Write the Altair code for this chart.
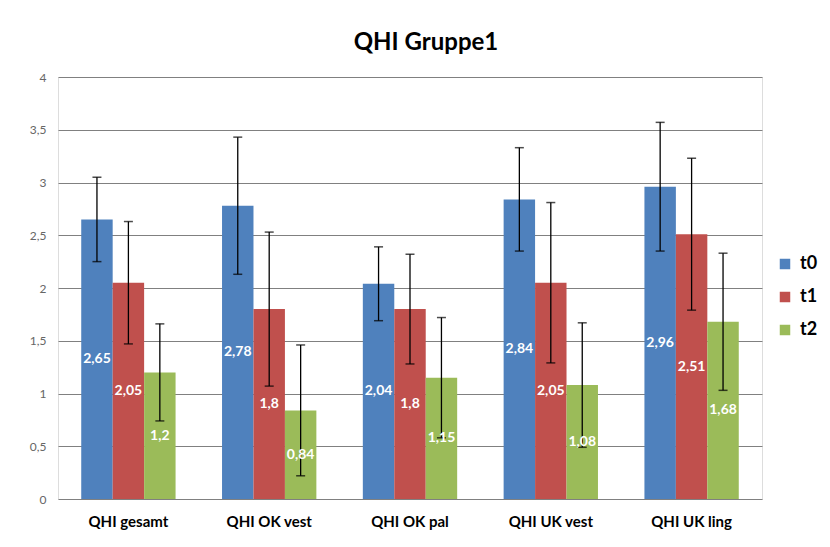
import altair as alt
import pandas as pd

categories = ["QHI gesamt", "QHI OK vest", "QHI OK pal", "QHI UK vest", "QHI UK ling"]
series = ["t0", "t1", "t2"]
t0_values = [2.65, 2.78, 2.04, 2.84, 2.96]
t1_values = [2.05, 1.8, 1.8, 2.05, 2.51]
t2_values = [1.2, 0.84, 1.15, 1.08, 1.68]
t0_err = [0.40, 0.65, 0.35, 0.49, 0.61]
t1_err = [0.58, 0.73, 0.52, 0.76, 0.72]
t2_err = [0.46, 0.62, 0.57, 0.59, 0.65]
colors = ["#4F81BD", "#C0504D", "#9BBB59"]

rows = []
for s, vals, errs in zip(series, [t0_values, t1_values, t2_values], [t0_err, t1_err, t2_err]):
    for c, v, e in zip(categories, vals, errs):
        rows.append({
            "cat": c, "series": s, "value": v,
            "lo": v - e, "hi": v + e, "mid": v / 2,
            "label": str(v).replace(".", ","),
        })
df = pd.DataFrame(rows)

FONT = "Lato"

x_enc = alt.X("cat:N", sort=categories, title=None,
              scale=alt.Scale(paddingInner=0.33, paddingOuter=0.165),
              axis=alt.Axis(labelAngle=0, labelFontWeight="bold", labelFontSize=15,
                            labelColor="#000000", labelPadding=15, ticks=False,
                            domain=False, labelFont=FONT))
xo = alt.XOffset("series:N", sort=series, scale=alt.Scale(paddingInner=0, paddingOuter=0))
y_scale = alt.Scale(domain=[0, 4])

base = alt.Chart(df)

bars = base.mark_bar().encode(
    x=x_enc,
    xOffset=xo,
    y=alt.Y("value:Q", scale=y_scale, title=None,
            axis=alt.Axis(values=[0, 0.5, 1, 1.5, 2, 2.5, 3, 3.5, 4],
                          labelExpr="replace(format(datum.value, ''), '.', ',')",
                          labelColor="#666666", labelFontSize=12, labelPadding=12,
                          ticks=False, domain=False, grid=True, gridColor="#808080",
                          gridWidth=1, labelFont=FONT)),
    color=alt.Color("series:N", sort=series,
                    scale=alt.Scale(domain=series, range=colors),
                    legend=alt.Legend(title=None, orient="none", legendX=718, legendY=178,
                                      symbolType="square", symbolSize=110,
                                      symbolStrokeWidth=0,
                                      labelFontSize=18, labelFontWeight="bold",
                                      labelFont=FONT, rowPadding=15, labelOffset=6)),
)

rules = base.mark_rule(color="#000000", strokeWidth=1.3).encode(
    x=alt.X("cat:N", sort=categories),
    xOffset=xo,
    y=alt.Y("lo:Q", scale=y_scale),
    y2="hi:Q",
)

cap_lo = base.mark_tick(color="#000000", thickness=1.5, size=9).encode(
    x=alt.X("cat:N", sort=categories),
    xOffset=xo,
    y=alt.Y("lo:Q", scale=y_scale),
)
cap_hi = base.mark_tick(color="#000000", thickness=1.5, size=9).encode(
    x=alt.X("cat:N", sort=categories),
    xOffset=xo,
    y=alt.Y("hi:Q", scale=y_scale),
)

labels = base.mark_text(color="white", fontWeight="bold", fontSize=14, font=FONT).encode(
    x=alt.X("cat:N", sort=categories),
    xOffset=xo,
    y=alt.Y("mid:Q", scale=y_scale),
    text="label:N",
)

chart = alt.layer(bars, rules, cap_lo, cap_hi, labels).properties(
    width=704,
    height=422,
    title=alt.Title("QHI Gruppe1", fontSize=24, fontWeight="bold", font=FONT,
                    anchor="middle", offset=16, dx=16, color="#000000"),
    autosize=alt.AutoSizeParams(type="none"),
    padding={"left": 50, "top": 69, "right": 60, "bottom": 40},
).configure_view(stroke=None).configure(background="white")

chart.save("out.html", embed_options={"renderer": "svg", "actions": False})
